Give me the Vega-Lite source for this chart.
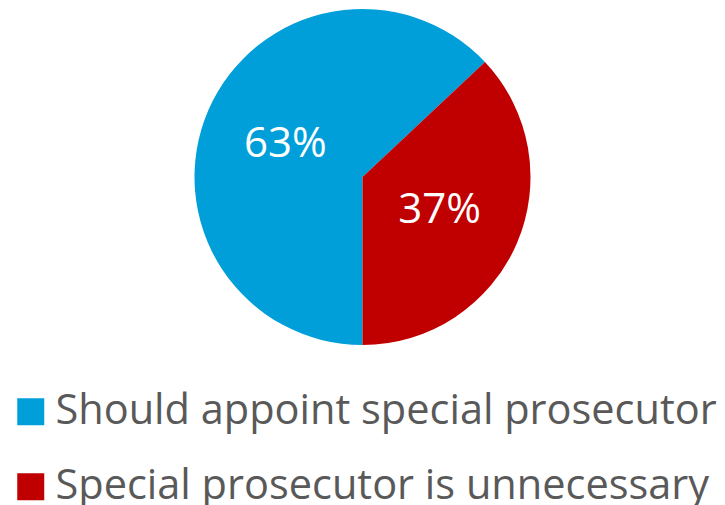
{
  "$schema": "https://vega.github.io/schema/vega-lite/v6.json",
  "width": 725,
  "height": 354,
  "autosize": "none",
  "padding": {"top": 0, "left": 0, "right": 0, "bottom": 151},
  "background": "white",
  "data": {"values": [
    {"category": "Should appoint special prosecutor", "value": 63, "label": "63%"},
    {"category": "Special prosecutor is unnecessary", "value": 37, "label": "37%"}
  ]},
  "encoding": {
    "theta": {"field": "value", "type": "quantitative", "stack": true, "scale": {"range": [3.14159265, 9.42477796]}},
    "order": {"field": "category", "sort": "ascending"},
    "color": {
      "field": "category", "type": "nominal",
      "scale": {"domain": ["Should appoint special prosecutor", "Special prosecutor is unnecessary"], "range": ["#009FDA", "#C00000"]},
      "legend": {
        "title": null, "orient": "none", "legendX": 10, "legendY": 391, "direction": "vertical",
        "symbolType": "square", "symbolSize": 729, "symbolStrokeWidth": 0, "symbolOpacity": 1,
        "labelFont": "Open Sans", "labelFontSize": 41.5, "labelColor": "#595959", "labelOffset": 4,
        "rowPadding": 32, "padding": 0, "labelLimit": 800
      }
    }
  },
  "layer": [
    {"mark": {"type": "arc", "radius": 168}},
    {"mark": {"type": "text", "radius": 84, "font": "Open Sans", "fontSize": 42, "color": "white"},
     "encoding": {"text": {"field": "label"}, "color": {"value": "white"}}}
  ]
}
